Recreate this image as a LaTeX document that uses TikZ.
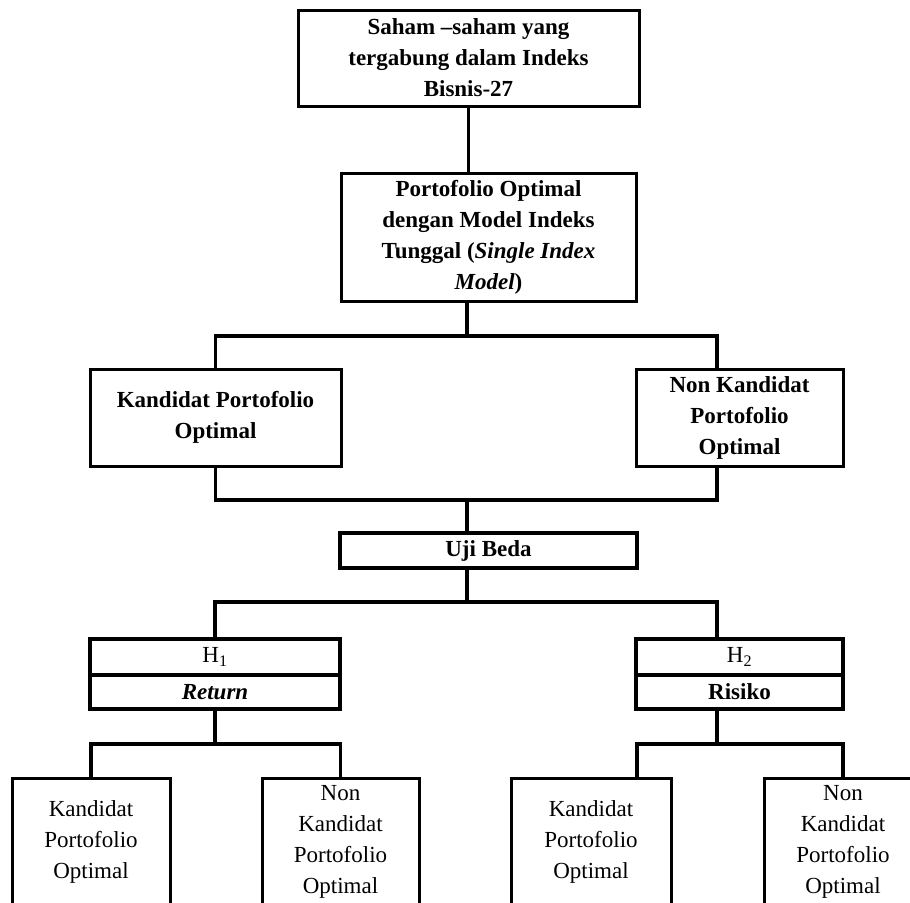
\documentclass[tikz,border=0pt]{standalone}
\usepackage{fontspec}
\setmainfont{Liberation Serif}
\usepackage{tikz}
\usetikzlibrary{positioning}

\begin{document}
\begin{tikzpicture}[
  x=1pt, y=-1pt,
  font=\fontsize{23}{31}\selectfont,
  every node/.style={align=center},
  stockBox/.style={draw,line width=3pt,rectangle,inner sep=0pt,outer sep=0pt,minimum width=341,minimum height=96,font=\bfseries\fontsize{23}{31}\selectfont},
  methodBox/.style={draw,line width=3pt,rectangle,inner sep=0pt,outer sep=0pt,minimum width=295,minimum height=128,font=\bfseries\fontsize{23}{31}\selectfont},
  groupBox/.style={draw,line width=3pt,rectangle,inner sep=0pt,outer sep=0pt,minimum height=97,font=\bfseries\fontsize{23}{31}\selectfont},
  testBox/.style={draw,line width=3.4pt,rectangle,inner sep=0pt,outer sep=0pt,minimum width=297,minimum height=35,font=\bfseries\fontsize{23}{31}\selectfont},
  hypBox/.style={draw,line width=3.4pt,rectangle,inner sep=0pt,outer sep=0pt},
  resultBox/.style={draw,line width=3pt,rectangle,inner sep=0pt,outer sep=0pt,minimum height=128},
  branchLine/.style={-,line width=3.4pt}]

  \useasboundingbox (0,0) rectangle (910,902);
  \clip (0,0) rectangle (910,902);

  % Position the nodes
  \node[stockBox] (saham) at (468.5,58) {Saham –saham yang\\tergabung dalam Indeks\\Bisnis-27};
  \node[methodBox] (model) at (488.5,237) {Portofolio Optimal\\dengan Model Indeks\\Tunggal (\textit{Single Index}\\\textit{Model})};
  \node[groupBox,minimum width=251] (kandidat) at (215.5,417.5) {Kandidat Portofolio\\Optimal};
  \node[groupBox,minimum width=207] (nonKandidat) at (739.5,417.5) {Non Kandidat\\Portofolio\\Optimal};
  \node[testBox] (ujiBeda) at (488.5,550.5) {Uji Beda};

  \node[hypBox,minimum width=250,minimum height=36] (hSatu) at (215,657) {H\textsubscript{1}};
  \node[hypBox,minimum width=250,minimum height=34] (hReturn) at (215,692) {\textbf{\textit{Return}}};
  \node[hypBox,minimum width=207,minimum height=36] (hDua) at (739.5,657) {H\textsubscript{2}};
  \node[hypBox,minimum width=207,minimum height=34] (hRisiko) at (739.5,692) {\textbf{Risiko}};

  \node[resultBox,minimum width=158] (retKand) at (91,842) {Kandidat\\Portofolio\\Optimal};
  \node[resultBox,minimum width=157] (retNon) at (340.5,842) {Non\\Kandidat\\Portofolio\\Optimal};
  \node[resultBox,minimum width=160] (risKand) at (591,842) {Kandidat\\Portofolio\\Optimal};
  \node[resultBox,minimum width=158] (risNon) at (843,842) {Non\\Kandidat\\Portofolio\\Optimal};

  % top part
  \draw [branchLine] (saham.south) -- (saham.south |- model.north);
  \draw [branchLine] ([xshift=-21.5pt]model.south) -- ++(0,35);
  \draw [branchLine] (kandidat.north) -- ++(0,-33) -| ([xshift=-22.5pt]nonKandidat.north);

  % groups to test
  \draw [branchLine] (kandidat.south) -- ++(0,34) -| ([xshift=-22.5pt]nonKandidat.south);
  \draw [branchLine] ([xshift=-21.5pt]ujiBeda.north) -- ++(0,-33);

  % test to hypotheses
  \draw [branchLine] ([xshift=-21.5pt]ujiBeda.south) -- ++(0,34);
  \draw [branchLine] (hSatu.north) -- ++(0,-37) -| ([xshift=-22.5pt]hDua.north);

  % hypotheses to results
  \draw [branchLine] (hReturn.south) -- ++(0,35);
  \draw [branchLine] (retKand.north) -- ++(0,-34) -| (retNon.north);
  \draw [branchLine] ([xshift=-22.5pt]hRisiko.south) -- ++(0,35);
  \draw [branchLine] ([xshift=46pt]risKand.north) -- ++(0,-34) -| (risNon.north);
\end{tikzpicture}
\end{document}
